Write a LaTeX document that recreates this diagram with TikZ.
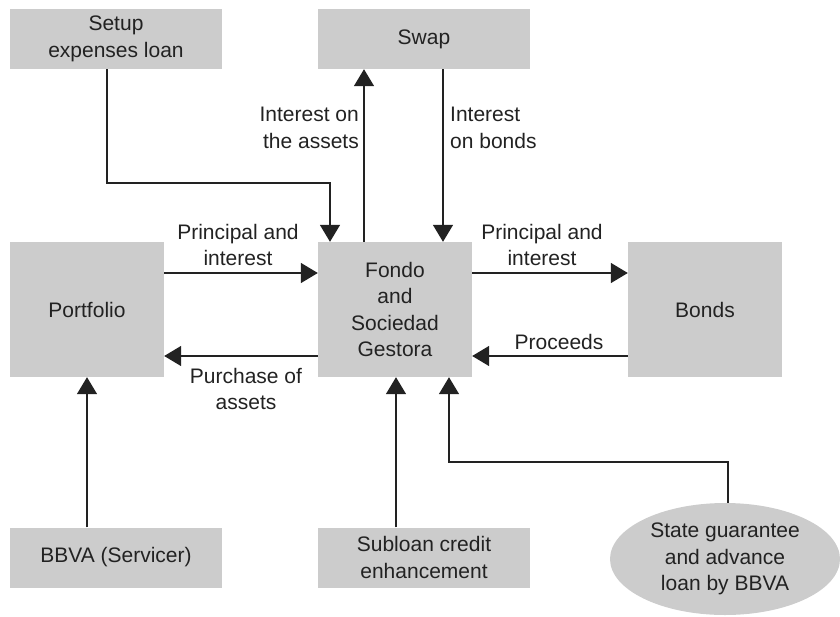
\documentclass[tikz,border=0pt]{standalone}
\usepackage{fontspec}
\setmainfont{Liberation Sans}
\usetikzlibrary{arrows.meta,shapes.geometric}
\definecolor{boxgray}{HTML}{CCCCCC}
\definecolor{ink}{HTML}{222222}
\tikzset{
	party/.style = {fill = boxgray, text = ink, align = center, inner sep = 0pt, minimum width = 212pt, minimum height = 60pt},
	bigparty/.style = {party, minimum width = 154pt, minimum height = 135pt},
	flow/.style = {draw = ink, line width = 1.6pt, -{Triangle[width = 20pt, length = 17pt]}},
	lbl/.style = {text = ink, inner sep = 0pt}
}
\begin{document}
\begin{tikzpicture}[x = 1pt, y = -1pt, font = \fontsize{21}{26.5}\selectfont]
		\useasboundingbox (0,0) rectangle (840,616);
		
		\node (Setup) at (116,39) [party] {Setup\\expenses loan};
		\node (Swap) at (424,39) [party] {Swap};
		
		\node (Portfolio) at (87,309.5) [bigparty] {Portfolio};
		\node (Fondo) at (395,309.5) [bigparty] {Fondo\\and\\Sociedad\\Gestora};
		\node (Bonds) at (705,309.5) [bigparty] {Bonds};
		
		\node (BBVA) at (116,557.5) [party] {BBVA (Servicer)};
		\node (Subloan) at (424,557.5) [party] {Subloan credit\\enhancement};
		\node (State) at (725,559) [ellipse, fill = boxgray, text = ink, align = center, inner sep = 0pt, minimum width = 230pt, minimum height = 112pt] {State guarantee\\and advance\\loan by BBVA};
		
		\coordinate (setupdrop) at (107,0);
		\coordinate (SetupBend) at (330,183);
		\coordinate (toswap) at (364,0);
		\coordinate (fromswap) at (443,0);
		\coordinate (rowin) at (0,273);
		\coordinate (rowout) at (0,356);
		\coordinate (servicer) at (87,0);
		\coordinate (subloanup) at (396,0);
		\coordinate (stateup) at (449,0);
		\coordinate (StateBend) at (728,462);
		
		\draw [flow] (Setup.south -| setupdrop) |- (SetupBend) -- (SetupBend |- Fondo.north);
		\draw [flow] (Fondo.north -| toswap) -- (Swap.south -| toswap);
		\draw [flow] (Swap.south -| fromswap) -- (Fondo.north -| fromswap);
		
		\draw [flow] (Portfolio.east |- rowin) -- (Fondo.west |- rowin);
		\draw [flow] (Fondo.west |- rowout) -- (Portfolio.east |- rowout);
		\draw [flow] (Fondo.east |- rowin) -- (Bonds.west |- rowin);
		\draw [flow] (Bonds.west |- rowout) -- (Fondo.east |- rowout);
		
		\draw [flow] (BBVA.north -| servicer) -- (Portfolio.south -| servicer);
		\draw [flow] (Subloan.north -| subloanup) -- (Fondo.south -| subloanup);
		\draw [flow] (State.north -| StateBend) -- (StateBend) -| (Fondo.south -| stateup);
		
		\node (intassets) at (359,128) [lbl, anchor = east, align = right] {Interest on\\the assets};
		\node (intbonds) at (450,128) [lbl, anchor = west, align = left] {Interest\\on bonds};
		\node (pileft) at (238,245) [lbl, align = center] {Principal and\\interest};
		\node (piright) at (542,245) [lbl, align = center] {Principal and\\interest};
		\node (purchase) at (246,389) [lbl, align = center] {Purchase of\\assets};
		\node (proceeds) at (559,342) [lbl] {Proceeds};
		\end{tikzpicture}
\end{document}
